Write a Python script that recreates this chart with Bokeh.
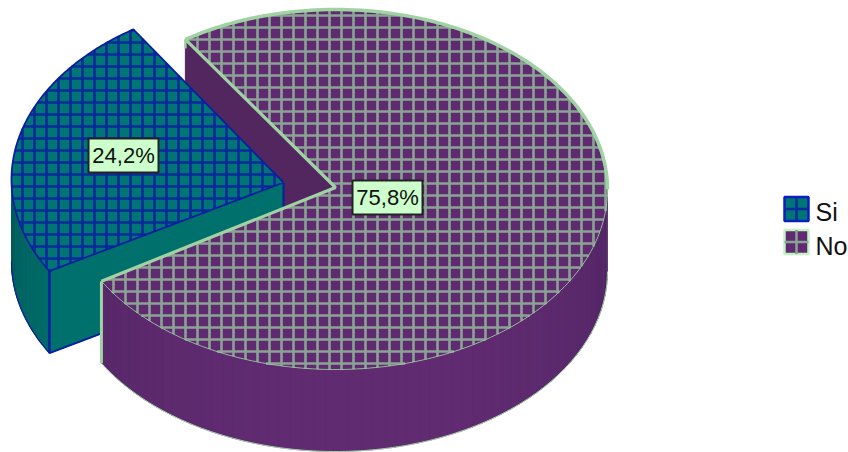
import numpy as np
from bokeh.embed import file_html
from bokeh.models import Range1d
from bokeh.plotting import figure
from bokeh.resources import INLINE

categories = ["Si", "No"]
values = [24.2, 75.8]
label_text = ["24,2%", "75,8%"]

W, H = 848, 452
RX, RY, DEPTH = 272, 180, 82
START = 326.5                      # clockwise from north, where the "No" slice begins
CENTERS = {"Si": (283, 179), "No": (335, 189)}
APEX = {"Si": (283, 182), "No": (335, 187)}
STEP = 12
GRID_PHASE = {"Si": (10, 6), "No": (5, 3)}
TOP_FILL = {"Si": "#007575", "No": "#5F2A70"}
GRID = {"Si": "#0A2A9A", "No": "#8BA394"}
EDGE = {"Si": "#0A1FA0", "No": "#A0D2A4"}
WALL_INNER = {"Si": "#00706C", "No": "#52265F"}
WALL_DARK = {"Si": "#005F5E", "No": "#4B2460"}
WALL_LIGHT = {"Si": "#007570", "No": "#612B71"}
LEGEND_EDGE = {"Si": "#0A1FC0", "No": "#C4F2C4"}
LABEL_FILL = "#CCFFCC"

p = figure(width=W, height=H, x_range=Range1d(0, W), y_range=Range1d(H, 0),
           output_backend="svg", toolbar_location=None, min_border=0,
           outline_line_color=None)
p.xaxis.visible = False
p.yaxis.visible = False
p.grid.visible = False


def rim(cat, angle):
    cx, cy = CENTERS[cat]
    a = np.radians(angle)
    return cx + RX * np.sin(a), cy - RY * np.cos(a)


def blend(c1, c2, t):
    a = [int(c1[i:i + 2], 16) for i in (1, 3, 5)]
    b = [int(c2[i:i + 2], 16) for i in (1, 3, 5)]
    return "#%02x%02x%02x" % tuple(int(round(u + (v - u) * t)) for u, v in zip(a, b))


no_sweep = values[1] / sum(values) * 360
no_end = (START + no_sweep) % 360    # No runs clockwise from START, through east and south
si_start, si_end = no_end, START


def sector(cat, a0, a1, n=200):
    ang = np.linspace(a0, a1, n)
    xs, ys = rim(cat, ang)
    cx, cy = APEX[cat]
    return np.r_[cx, xs], np.r_[cy, ys]


def crossings(along, across, level):
    """Positions where a closed outline crosses a scan line."""
    a0, a1 = across, np.roll(across, -1)
    b0, b1 = along, np.roll(along, -1)
    hit = (a0 <= level) != (a1 <= level)
    return np.sort(b0[hit] + (level - a0[hit]) / (a1[hit] - a0[hit]) * (b1[hit] - b0[hit]))


def grid_lines(cat, polyx, polyy):
    """Cross-hatch runs clipped to a slice's top face."""
    px, py = GRID_PHASE[cat]
    xs_out, ys_out = [], []
    for gx in range(px, W, STEP):
        c = crossings(polyy, polyx, gx)
        for y0, y1 in zip(c[::2], c[1::2]):
            xs_out.append([gx, gx])
            ys_out.append([y0, y1])
    for gy in range(py, H, STEP):
        c = crossings(polyx, polyy, gy)
        for x0, x1 in zip(c[::2], c[1::2]):
            xs_out.append([x0, x1])
            ys_out.append([gy, gy])
    return xs_out, ys_out


def radial_wall(cat, angle):
    cx, cy = APEX[cat]
    x, y = rim(cat, angle)
    p.patch([cx, x, x, cx], [cy, y, y + DEPTH, cy + DEPTH],
            fill_color=WALL_INNER[cat], line_color=WALL_INNER[cat])
    return x, y


def outer_wall(cat, a0, a1, n=60):
    edges = np.linspace(a0, a1, n + 1)
    for i in range(n):
        seg = np.linspace(edges[i], edges[i + 1] + 0.3, 5)
        x, y = rim(cat, seg)
        mid = (edges[i] + edges[i + 1]) / 2
        t = max(0.0, np.cos(np.radians(mid - 175))) ** 0.7
        c = blend(WALL_DARK[cat], WALL_LIGHT[cat], t)
        p.patch(np.r_[x, x[::-1]], np.r_[y, (y + DEPTH)[::-1]],
                fill_color=c, line_color=c, line_width=0.5)


def top_face(cat, a0, a1, width):
    x, y = sector(cat, a0, a1)
    p.patch(x, y, fill_color=TOP_FILL[cat], line_color=None)
    gx, gy = grid_lines(cat, x, y)
    p.multi_line(gx, gy, line_color=GRID[cat], line_width=width)


# inner face of "No", seen through the gap left by the pulled-out slice
nx, ny = radial_wall("No", START)
p.line([nx, nx], [ny, ny + 9], line_color=EDGE["No"], line_width=2.5)

# "Si" slice: walls, top face and outline
outer_wall("Si", si_start, 270)
ax, ay = radial_wall("Si", si_start)
scx, scy = APEX["Si"]
p.line([ax, ax], [ay, ay + DEPTH], line_color=EDGE["Si"], line_width=2.5)
p.line([ax, scx], [ay + DEPTH, scy + DEPTH], line_color=EDGE["Si"], line_width=2)
p.line([scx, scx], [scy, scy + DEPTH], line_color=EDGE["Si"], line_width=2)
top_face("Si", si_start, si_end, 2.6)
sx, sy = sector("Si", si_start, si_end)
p.line(np.r_[sx, sx[0]], np.r_[sy, sy[0]], line_color=EDGE["Si"], line_width=1.8)
low = np.linspace(si_start, 270, 30)
lx, ly = rim("Si", low)
p.line(lx, ly + DEPTH, line_color=EDGE["Si"], line_width=1.2)

# "No" slice: outer wall, top face and outline
outer_wall("No", 90, no_end)
top_face("No", START, START + no_sweep, 2.6)
arc_back = np.linspace(START, 450, 90)
bx, by = rim("No", arc_back)
p.line(bx, by, line_color=EDGE["No"], line_width=3.5)
arc_front = np.linspace(90, no_end, 120)
fx, fy = rim("No", arc_front)
p.line(fx, fy, line_color=EDGE["No"], line_width=0.8)
p.line(fx, fy + DEPTH, line_color=EDGE["No"], line_width=1)
ncx, ncy = APEX["No"]
ex, ey = rim("No", no_end)
p.line([nx, ncx, ex], [ny, ncy, ey], line_color=EDGE["No"], line_width=3.2)
p.line([ex, ex], [ey, ey + DEPTH], line_color=EDGE["No"], line_width=3)

# percentage labels
label_x = [123, 387]
label_y = [155, 197]
p.rect(label_x, label_y, width=70, height=34, fill_color=LABEL_FILL,
       line_color="#222222", line_width=2)
p.text(label_x, label_y, text=label_text, text_font_size="22px",
       text_align="center", text_baseline="middle", text_color="#111111",
       text_font={"value": "Liberation Sans"})

# legend
swatch_y = [208.5, 241.5]
text_y = [211, 245]
for cat, yy in zip(categories, swatch_y):
    p.rect([796], [yy], width=24, height=24, fill_color=TOP_FILL[cat],
           line_color=LEGEND_EDGE[cat], line_width=2.5)
    p.segment([796, 784], [yy - 12, yy], [796, 808], [yy + 12, yy],
              line_color=GRID[cat], line_width=2.5)
p.text([815, 815], text_y, text=categories, text_font_size="25px",
       text_baseline="middle", text_color="#111111",
       text_font={"value": "Liberation Sans"})

open("out.html", "w").write(file_html(p, INLINE))
